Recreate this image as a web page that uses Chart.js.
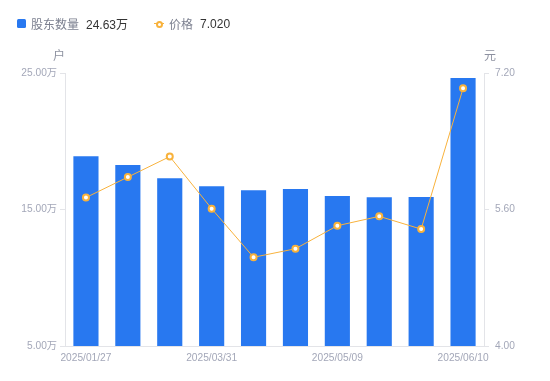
<!DOCTYPE html>
<html>
<head>
<meta charset="utf-8">
<script src="https://cdn.jsdelivr.net/npm/chart.js@4/dist/chart.umd.min.js"></script>
<style>
  html, body { margin: 0; padding: 0; background: #fff; }
  #wrap { position: relative; width: 550px; height: 381px; }
  #legend { position: absolute; left: 17px; top: 15px; font-family: "Liberation Sans", "Noto Sans CJK SC", sans-serif; font-size: 12px; display: flex; align-items: center; white-space: nowrap; }
  .item { display: flex; align-items: center; margin-right: 26px; }
  .sq { width: 9px; height: 9px; background: #2878f0; border-radius: 1.5px; margin-right: 5px; }
  .ln { position: relative; width: 10px; height: 9px; margin-right: 5px; }
  .ln::before { content: ""; position: absolute; left: 0; right: 0; top: 4px; height: 1px; background: #f8b23c; }
  .ln::after { content: ""; position: absolute; left: 2px; top: 1.5px; width: 3px; height: 3px; border: 2px solid #f8b23c; border-radius: 50%; background: #fff; }
  .nm { color: #7c8090; margin-right: 7px; }
  .vl { color: #333; }
  canvas { position: absolute; left: 0; top: 0; }
</style>
</head>
<body>
<div id="wrap">
  <canvas id="c" width="550" height="381"></canvas>
  <div id="legend">
    <div class="item"><div class="sq"></div><span class="nm">股东数量</span><span class="vl" id="v1"></span></div>
    <div class="item"><div class="ln"></div><span class="nm">价格</span><span class="vl" id="v2"></span></div>
  </div>
</div>
<script>
const dates = ["2025/01/27","2025/02/10","2025/02/28","2025/03/31","2025/04/10","2025/04/18","2025/05/09","2025/05/20","2025/05/30","2025/06/10"];
const holders = [18.90, 18.26, 17.29, 16.70, 16.41, 16.50, 15.99, 15.89, 15.92, 24.63];
const prices = [5.74, 5.98, 6.22, 5.61, 5.04, 5.14, 5.41, 5.52, 5.37, 7.02];
const leftTicks = [5, 15, 25];
const rightTicks = [4.00, 5.60, 7.20];

document.getElementById('v1').textContent = holders[holders.length-1].toFixed(2) + '万';
document.getElementById('v2').textContent = prices[prices.length-1].toFixed(3);

const FONT = '"Liberation Sans", "Noto Sans CJK SC", sans-serif';
const tickColor = '#a3a7b8';
const axisColor = '#e3e4e8';
const TICK_SIZE = 10.2;

const unitPlugin = {
  id: 'units',
  afterDraw(chart) {
    const ctx = chart.ctx, a = chart.chartArea;
    ctx.save();
    ctx.font = '12px ' + FONT;
    ctx.fillStyle = '#8d91a0';
    ctx.textBaseline = 'middle';
    ctx.textAlign = 'center';
    ctx.fillText('户', a.left - 6, 57);
    ctx.fillText('元', a.right + 6, 57);
    ctx.restore();
  }
};

new Chart(document.getElementById('c'), {
  data: {
    labels: dates,
    datasets: [
      {
        type: 'line',
        label: '价格',
        data: prices,
        yAxisID: 'y1',
        borderColor: '#f8b23c',
        borderWidth: 1,
        backgroundColor: '#ffffff',
        pointBackgroundColor: '#ffffff',
        pointBorderColor: '#f8b23c',
        pointBorderWidth: 2,
        pointRadius: 3,
        tension: 0,
        order: 0
      },
      {
        type: 'bar',
        label: '股东数量',
        data: holders,
        yAxisID: 'y',
        backgroundColor: '#2878f0',
        borderWidth: 0,
        barPercentage: 0.6,
        categoryPercentage: 1.0,
        order: 1
      }
    ]
  },
  options: {
    responsive: false,
    animation: false,
    layout: { padding: { top: 73, left: 0, right: 0, bottom: 0 } },
    plugins: { legend: { display: false }, tooltip: { enabled: false } },
    scales: {
      x: {
        offset: true,
        grid: { display: false, drawTicks: false },
        border: { display: true, color: axisColor },
        ticks: {
          autoSkip: false,
          maxRotation: 0,
          padding: 6,
          color: tickColor,
          font: { family: FONT, size: TICK_SIZE },
          callback: (v, i) => (i % 3 === 0 ? dates[i] : '')
        },
        afterFit: s => { s.height = 35; }
      },
      y: {
        position: 'left',
        min: 5, max: 25,
        afterBuildTicks: s => { s.ticks = leftTicks.map(v => ({ value: v })); },
        grid: { drawOnChartArea: false, drawTicks: true, tickLength: 5, color: axisColor },
        border: { display: true, color: axisColor },
        ticks: {
          padding: 3,
          color: tickColor,
          font: { family: FONT, size: TICK_SIZE },
          callback: v => v.toFixed(2) + '万'
        },
        afterFit: s => { s.width = 65; }
      },
      y1: {
        position: 'right',
        min: 4, max: 7.2,
        afterBuildTicks: s => { s.ticks = rightTicks.map(v => ({ value: v })); },
        grid: { drawOnChartArea: false, drawTicks: true, tickLength: 5, color: axisColor },
        border: { display: true, color: axisColor },
        ticks: {
          padding: 6,
          color: tickColor,
          font: { family: FONT, size: TICK_SIZE },
          callback: v => v.toFixed(2)
        },
        afterFit: s => { s.width = 66; }
      }
    }
  },
  plugins: [unitPlugin]
});
</script>
</body>
</html>
